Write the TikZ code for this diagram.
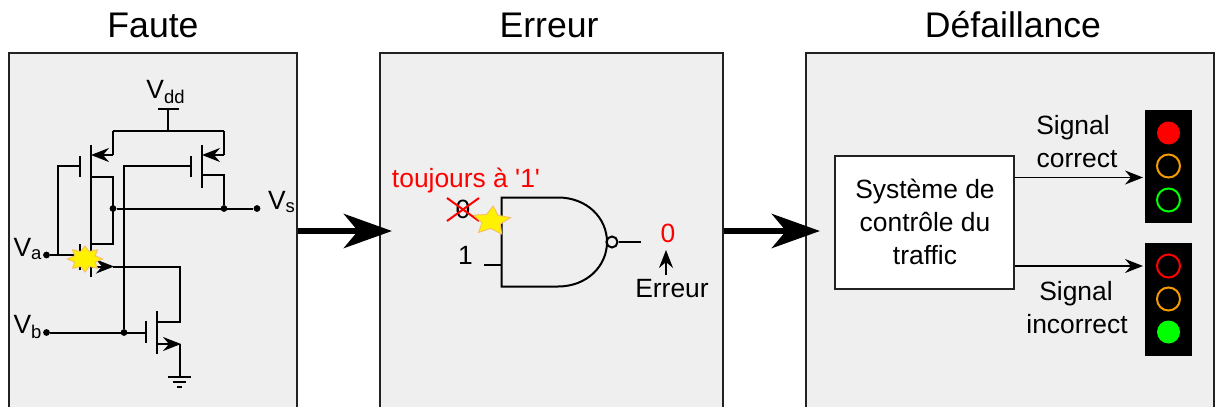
\documentclass[tikz,border=0pt]{standalone}
\usepackage{fontspec}
\setmainfont{Liberation Sans}
\newfontfamily\sansbrut{Liberation Sans}
\usetikzlibrary{arrows.meta,shapes.geometric}
\definecolor{fondgris}{HTML}{EFEFEF}
\definecolor{trait}{HTML}{222222}
\definecolor{orangefeu}{HTML}{F59A00}
\definecolor{vertfeu}{HTML}{00FF00}
\definecolor{bordetoile}{HTML}{F8C060}
\tikzset{
	panneau/.style={draw=trait,line width=1pt,fill=fondgris,minimum height=183.5pt,inner sep=0pt},
	titre/.style={anchor=base,font=\fontsize{17.8}{20}\selectfont},
	texte/.style={anchor=base,inner sep=0pt,font=\fontsize{13.2}{15}\selectfont},
	pointfil/.style={circle,fill=black,inner sep=0pt,minimum size=3.4pt},
	fil/.style={line width=1pt,black},
	fleche/.style={line width=.8pt,-{Stealth[length=9pt,width=7pt,inset=3pt]}},
	grossefleche/.style={line width=3.4pt,-{Stealth[length=24pt,width=17pt,inset=7pt]}},
	etoile/.style={star,draw=bordetoile,fill=yellow,line width=.5pt,inner sep=0pt},
	feu/.style={fill=black,minimum width=23.5pt,minimum height=56.5pt,inner sep=0pt},
	lampe/.style={circle,line width=1pt,minimum size=11.5pt,inner sep=0pt}
}
\begin{document}
\begin{tikzpicture} [x=0.5pt,y=-0.5pt,>=latex]
	\clip (0,0) rectangle (1216,407);
	%panneaux
	\node[panneau,minimum width=144pt] (faute) at (153,236.5) {};
	\node[panneau,minimum width=171.5pt] (erreur) at (551.5,236.5) {};
	\node[panneau,minimum width=204pt] (defaillance) at (1010,236.5) {};
	\node[titre] (titrefaute) at (153,37.5) {Faute};
	\node[titre] (titreerreur) at (549,37.5) {Erreur};
	\node[titre] (titredefaillance) at (1013,37.5) {Défaillance};
	%grosses fleches
	\coordinate (versporte) at (392,231);
	\coordinate (verscontrole) at (820,231);
	\draw[grossefleche] (faute.east |- versporte) -- (versporte);
	\draw[grossefleche] (erreur.east |- verscontrole) -- (verscontrole);
	%circuit
	\coordinate (vddhaut) at (168,109);
	\coordinate (vddbas) at (168,131);
	\coordinate (railg) at (113,131);
	\coordinate (raild) at (224,131);
	\node[pointfil] (sortieg) at (113,208.5) {};
	\node[pointfil] (sortied) at (224,208.5) {};
	\node[pointfil] (vs) at (257,208.5) {};
	\node[pointfil] (va) at (46.5,255) {};
	\node[pointfil] (vb) at (46.5,332.5) {};
	\node[pointfil] (noeudb) at (124,332.5) {};
	\coordinate (noeuda) at (57.5,255);
	\draw[fil] (158,109) -- (179,109);
	\draw[fil] (vddhaut) -- (vddbas);
	\draw[fil] (railg) -- (raild);
	\draw[fil] (railg) -- (113,155);
	\draw[fil] (raild) -- (224,155);
	\draw[fil,-{Stealth[length=9pt,width=7pt,inset=3pt]}] (113,155) -- (91,155);
	\draw[fil,-{Stealth[length=9pt,width=7pt,inset=3pt]}] (224,155) -- (202,155);
	%canal
	\draw[fil] (90.5,145) -- (90.5,277);
	\draw[fil] (79.5,156) -- (79.5,177);
	\draw[fil] (79.5,244) -- (79.5,270);
	\draw[fil] (79.5,166) -- (57.5,166) -- (noeuda);
	\draw[fil] (va) -- (79.5,255);
	\draw[fil] (90.5,177) -- (113,177) -- (113,244) -- (90.5,244);
	\draw[fil] (sortieg) -- (vs);
	\draw[fil] (201.5,145) -- (201.5,188);
	\draw[fil] (191,156) -- (191,177);
	\draw[fil] (191,166) -- (124,166) -- (noeudb);
	\draw[fil] (201.5,175) -- (224,175) -- (sortied);
	\draw[fil] (113,266.5) -- (179.5,266.5) -- (179.5,321.5) -- (157,321.5);
	\draw[fil,-{Stealth[length=9pt,width=7pt,inset=3pt]}] (90.5,266.5) -- (114,266.5);
	\draw[fil] (157,311) -- (157,354);
	\draw[fil] (146,321) -- (146,343);
	\draw[fil] (vb) -- (146,332.5);
	\draw[fil] (179.5,344) -- (179.5,377);
	\draw[fil,-{Stealth[length=9pt,width=7pt,inset=3pt]}] (157,344) -- (181,344);
	\draw[fil] (168,377) -- (191,377);
	\draw[fil] (173,382) -- (186,382);
	\draw[fil] (177,386.5) -- (182,386.5);
	\node[etoile,star points=8,star point ratio=1.6,minimum size=13pt,xscale=1.35] (panne) at (85,259) {};
	\node[texte] (labelvdd) at (166,98) {V\textsubscript{dd}};
	\node[texte] (labelva) at (28,256) {V\textsubscript{a}};
	\node[texte] (labelvb) at (28,333.5) {V\textsubscript{b}};
	\node[texte] (labelvs) at (282,209) {V\textsubscript{s}};
	%porte nand
	\draw[line width=1pt,black] (558,197.5) -- (501.5,197.5) -- (501.5,286.5) -- (558,286.5)
		.. controls (587,286.5) and (607,266) .. (607,242)
		.. controls (607,218) and (587,197.5) .. (558,197.5);
	\node[circle,draw,line width=1pt,inner sep=0pt,minimum size=5.5pt] (inverse) at (612,242) {};
	\coordinate (sortieporte) at (641,242);
	\draw[fil] (inverse) -- (sortieporte);
	\coordinate (entree) at (484,264.5);
	\draw[fil] (entree) -- (entree -| 501.5,0);
	\node[texte] (zero) at (463,218.5) {0};
	\node[texte] (un) at (465.5,264.5) {1};
	\draw[red,line width=1pt] (447,198) -- (479,221);
	\draw[red,line width=1pt] (447,221) -- (479,198);
	\node[etoile,star point ratio=2,minimum size=15pt,xscale=1.3,rotate=-5] (collage) at (491.5,221) {};
	\node[texte,red] (toujours) at (466,187) {\sansbrut toujours à '1'};
	\node[texte,red] (sortiezero) at (668,242.5) {0};
	\node[texte] (labelerreur) at (672,297.5) {Erreur};
	\coordinate (piederreur) at (666,275);
	\coordinate (teteerreur) at (666,250);
	\draw[fleche] (piederreur) -- (teteerreur);
	%controle et feux
	\node[draw=trait,line width=1pt,fill=white,minimum width=89.5pt,minimum height=66.5pt,inner sep=0pt] (controle) at (924.5,222) {};
	\node[texte] (ligneun) at (925,198.5) {Système de};
	\node[texte] (lignedeux) at (925,231.5) {contrôle du};
	\node[texte] (lignetrois) at (925,264.5) {traffic};
	\node[feu] (feuhaut) at (1168.5,166.5) {};
	\node[feu] (feubas) at (1168.5,299.5) {};
	\node[lampe,fill=red] (rougeun) at (1168.5,133) {};
	\node[lampe,draw=orangefeu] (orangeun) at (1168.5,166) {};
	\node[lampe,draw=vertfeu] (vertun) at (1168.5,200) {};
	\node[lampe,draw=red] (rougedeux) at (1168.5,266) {};
	\node[lampe,draw=orangefeu] (orangedeux) at (1168.5,299) {};
	\node[lampe,fill=vertfeu] (vertdeux) at (1168.5,332) {};
	\coordinate (verthaut) at (1143,177.5);
	\coordinate (vertbasse) at (1143,266);
	\draw[fleche] (controle.east |- verthaut) -- (verthaut);
	\draw[fleche] (controle.east |- vertbasse) -- (vertbasse);
	\node[texte] (signalun) at (1073,134) {Signal};
	\node[texte] (correct) at (1077,167) {correct};
	\node[texte] (signaldeux) at (1076,300) {Signal};
	\node[texte] (incorrect) at (1077,333) {incorrect};
\end{tikzpicture}
\end{document}
